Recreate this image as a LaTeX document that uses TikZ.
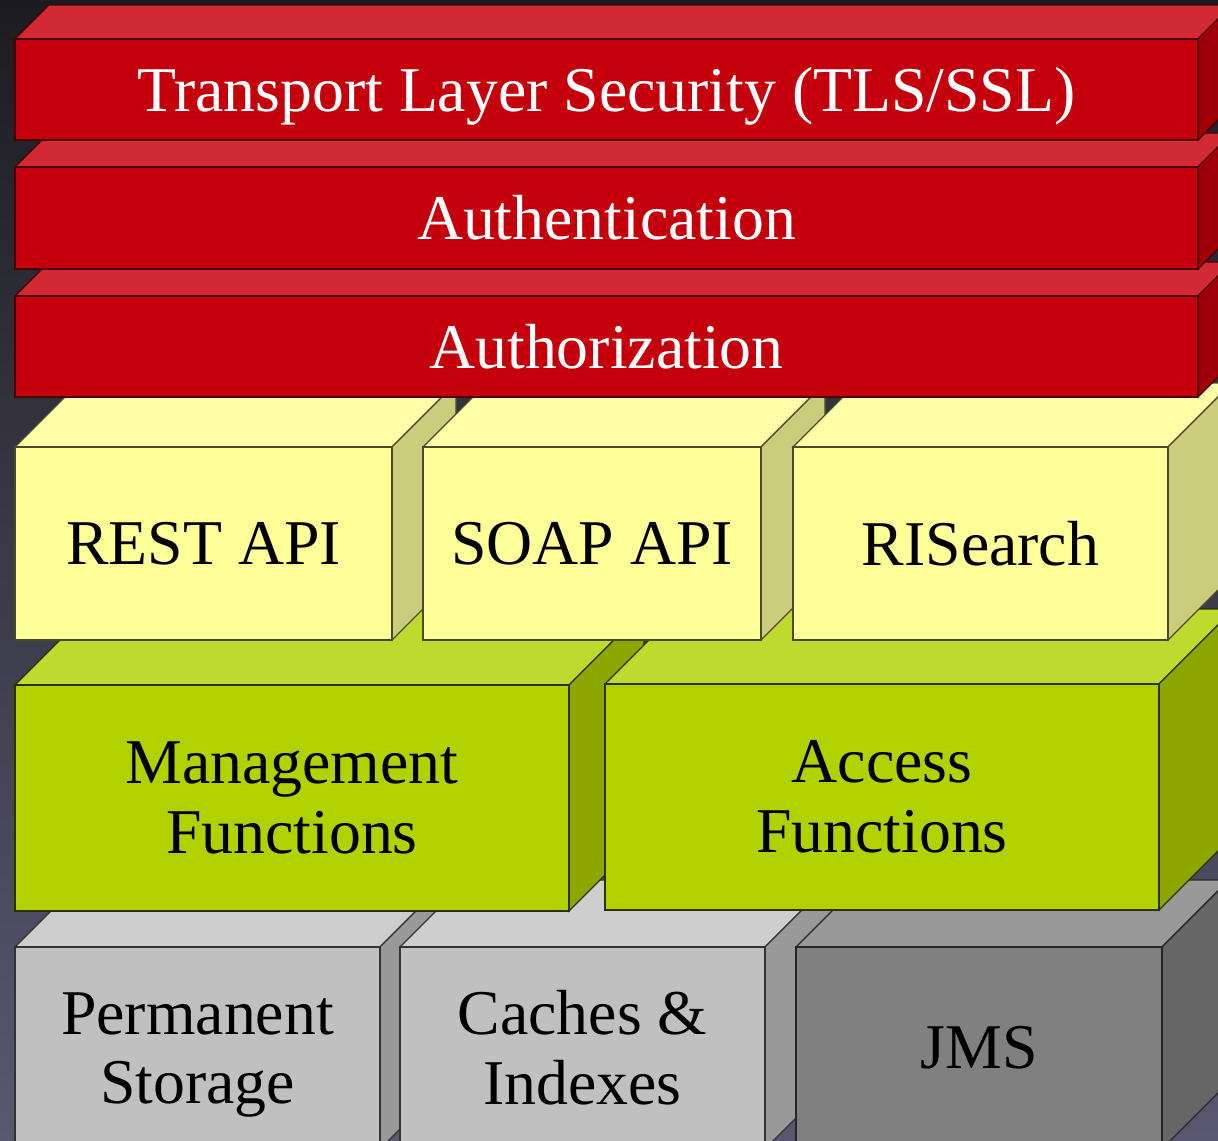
\documentclass[tikz,border=0pt]{standalone}
\usepackage{fontspec}
\setmainfont{Liberation Serif}
\newcommand{\labelfont}{\fontsize{64}{70}\selectfont}

% face colours of the five box families
\definecolor{redfront}{HTML}{C3000B}
\definecolor{redtop}{HTML}{D22A35}
\definecolor{redside}{HTML}{A0000A}
\definecolor{rededge}{HTML}{4A0000}
\definecolor{yelfront}{HTML}{FFFF99}
\definecolor{yeltop}{HTML}{FFFFA8}
\definecolor{yelside}{HTML}{CCCC7D}
\definecolor{yeledge}{HTML}{4A4A2A}
\definecolor{grnfront}{HTML}{B1D100}
\definecolor{grntop}{HTML}{BFDA2E}
\definecolor{grnside}{HTML}{8EA600}
\definecolor{grnedge}{HTML}{2A3300}
\definecolor{lgyfront}{HTML}{C0C0C0}
\definecolor{lgytop}{HTML}{CECECE}
\definecolor{lgyside}{HTML}{999999}
\definecolor{lgyedge}{HTML}{333333}
\definecolor{dgyfront}{HTML}{808080}
\definecolor{dgytop}{HTML}{999999}
\definecolor{dgyside}{HTML}{666666}
\definecolor{dgyedge}{HTML}{262626}
\definecolor{bgtop}{HTML}{1C1C20}
\definecolor{bgbottom}{HTML}{5A5870}

\tikzset{
  faceedge/.style={line width=1.2bp, line join=miter},
  edgered/.style={faceedge, draw=rededge},
  edgeyel/.style={faceedge, draw=yeledge},
  edgegrn/.style={faceedge, draw=grnedge},
  edgelgy/.style={faceedge, draw=lgyedge},
  edgedgy/.style={faceedge, draw=dgyedge},
  boxtext/.style={font=\labelfont, align=center, inner sep=0pt},
  textred/.style={boxtext, text=white},
  textyel/.style={boxtext, text=black},
  textgrn/.style={boxtext, text=black},
  textlgy/.style={boxtext, text=black},
  textdgy/.style={boxtext, text=black},
}

% #1 name, #2 x1, #3 y1, #4 x2, #5 y2 (front face), #6 depth, #7 family,
% #8 vertical nudge of the label, #9 label
\newcommand{\layercube}[9]{%
  \filldraw[edge#7, fill=#7top] (#2,#3) -- ({#2+#6},{#3-#6}) -- ({#4+#6},{#3-#6}) -- (#4,#3) -- cycle;
  \filldraw[edge#7, fill=#7side] (#4,#3) -- ({#4+#6},{#3-#6}) -- ({#4+#6},{#5-#6}) -- (#4,#5) -- cycle;
  \filldraw[edge#7, fill=#7front] (#2,#3) rectangle (#4,#5);
  \node[text#7, yshift=#8] (#1) at ({(#2+#4)/2},{(#3+#5)/2}) {#9};
}

\begin{document}
\begin{tikzpicture}[x=1bp, y=-1bp]
\useasboundingbox (0,0) rectangle (1218,1141);
\begin{scope}
\clip (0,0) rectangle (1218,1141);
\shade[top color=bgtop, bottom color=bgbottom] (0,0) rectangle (1218,1141);

% storage row
\layercube{perm}{15}{947}{380}{1149}{67}{lgy}{-7bp}{Permanent\\Storage}
\layercube{cache}{400}{947}{765}{1149}{67}{lgy}{0bp}{Caches \&\\Indexes}
\layercube{jms}{796}{947}{1162}{1149}{67}{dgy}{0bp}{JMS}

% function row
\layercube{mgmt}{15}{685}{569}{911}{75}{grn}{0bp}{Management\\Functions}
\layercube{access}{605}{684}{1159}{910}{75}{grn}{0bp}{Access\\Functions}

% interface row
\layercube{rest}{15}{447}{392}{640}{64}{yel}{0bp}{REST API}
\layercube{soap}{423}{447}{761}{640}{64}{yel}{0bp}{SOAP API}
\layercube{risearch}{793}{447}{1168}{640}{64}{yel}{0bp}{RISearch}

% security layers
\layercube{authz}{15}{296}{1198}{397}{34}{red}{0bp}{Authorization}
\layercube{authn}{15}{167}{1198}{269}{34}{red}{0bp}{Authentication}
\layercube{tls}{15}{39}{1198}{140}{34}{red}{-7bp}{Transport Layer Security (TLS/SSL)}
\end{scope}
\end{tikzpicture}
\end{document}
